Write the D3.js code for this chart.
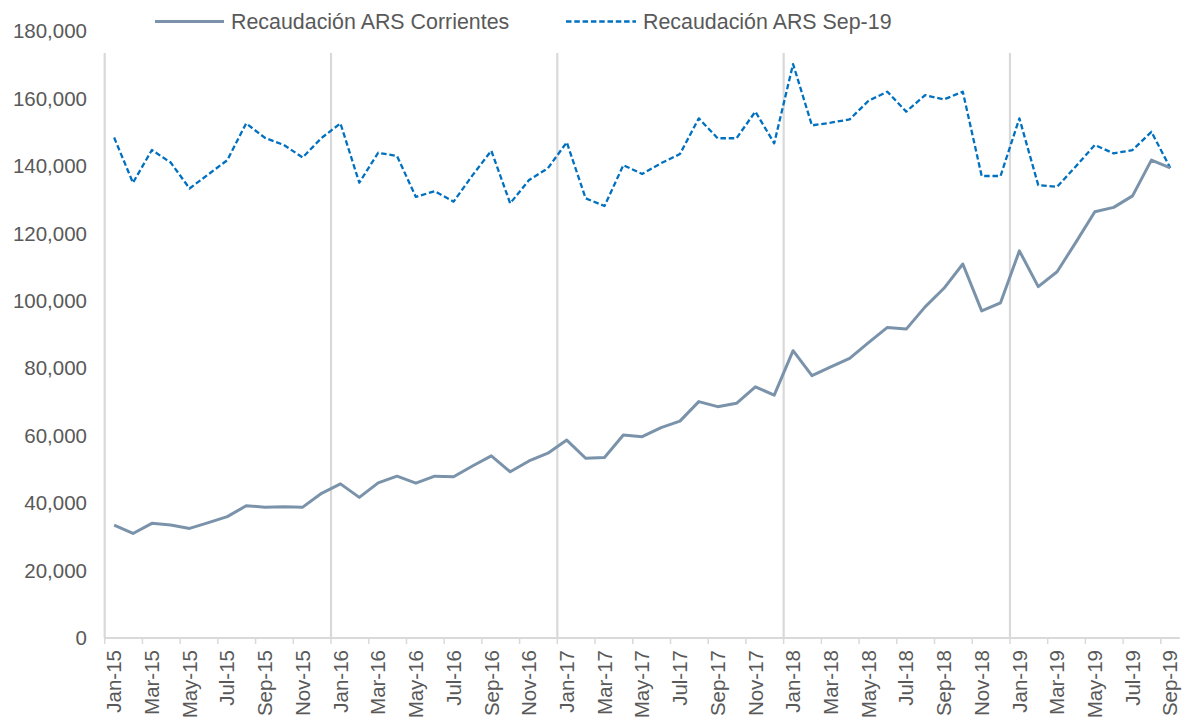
<!DOCTYPE html>
<html>
<head>
<meta charset="utf-8">
<script src="https://cdn.jsdelivr.net/npm/d3@7"></script>
<style>
  html, body { margin: 0; padding: 0; background: #fff; }
  svg { display: block; font-family: "Liberation Sans", Arial, sans-serif; }
</style>
</head>
<body>
<svg id="chart" width="1182" height="722"></svg>
<script>
const months = [
  "Jan-15","Feb-15","Mar-15","Apr-15","May-15","Jun-15","Jul-15","Aug-15","Sep-15","Oct-15","Nov-15","Dec-15",
  "Jan-16","Feb-16","Mar-16","Apr-16","May-16","Jun-16","Jul-16","Aug-16","Sep-16","Oct-16","Nov-16","Dec-16",
  "Jan-17","Feb-17","Mar-17","Apr-17","May-17","Jun-17","Jul-17","Aug-17","Sep-17","Oct-17","Nov-17","Dec-17",
  "Jan-18","Feb-18","Mar-18","Apr-18","May-18","Jun-18","Jul-18","Aug-18","Sep-18","Oct-18","Nov-18","Dec-18",
  "Jan-19","Feb-19","Mar-19","Apr-19","May-19","Jun-19","Jul-19","Aug-19","Sep-19"
];

const corrientes = [
  33500, 31000, 34000, 33500, 32500, 34200, 36000, 39200, 38800, 38900, 38800, 42900,
  45700, 41700, 46000, 48000, 45900, 48000, 47800, 51000, 54000, 49300, 52500, 54800,
  58700, 53300, 53500, 60200, 59700, 62400, 64300, 70100, 68600, 69600, 74500, 72000,
  85200, 77800, 80400, 82900, 87600, 92100, 91600, 98200, 103700, 110900, 97000, 99400,
  114800, 104200, 108600, 117400, 126400, 127700, 131100, 141700, 139400
];

const sep19 = [
  148400, 135000, 144700, 141000, 133300, 137500, 141700, 152600, 148300, 146200, 142500, 148300,
  152600, 135000, 143900, 142900, 130800, 132500, 129400, 137200, 144500, 128900, 135800, 139300,
  147000, 130400, 128100, 140200, 137600, 140800, 143500, 154100, 148200, 148200, 156100, 146700,
  170200, 152000, 152800, 153800, 159300, 162000, 156100, 161000, 159700, 162000, 137000, 137000,
  154100, 134300, 133800, 139900, 146200, 143700, 144700, 150100, 139400
];

const yTicks = [0, 20000, 40000, 60000, 80000, 100000, 120000, 140000, 160000, 180000];
const yearStarts = ["Jan-16", "Jan-17", "Jan-18", "Jan-19"];
const seriesNames = ["Recaudación ARS Corrientes", "Recaudación ARS Sep-19"];

const svg = d3.select("#chart");
const plotLeft = 104.7, plotRight = 1179.7, plotTop = 31, plotBottom = 638, lineTop = 53;
const textColor = "#595959";
const gridColor = "#d9d9d9";
const fontSize = "20.5px";
const legendFontSize = "21.4px";

const x = d3.scaleBand().domain(months).range([plotLeft, plotRight]).paddingInner(0).paddingOuter(0);
const y = d3.scaleLinear().domain([0, 180000]).range([plotBottom, plotTop]);
const cx = m => x(m) + x.bandwidth() / 2;

// Y labels
svg.append("g").selectAll("text").data(yTicks).join("text")
  .attr("x", 87).attr("y", d => y(d)).attr("dy", "0.35em")
  .attr("text-anchor", "end").attr("fill", textColor).style("font-size", fontSize)
  .text(d => d3.format(",")(d));

// Vertical separators (left axis + year starts)
svg.append("g").selectAll("line").data([months[0]].concat(yearStarts)).join("line")
  .attr("x1", d => x(d)).attr("x2", d => x(d))
  .attr("y1", lineTop).attr("y2", plotBottom)
  .attr("stroke", gridColor).attr("stroke-width", 2.2);

// X axis line
svg.append("line").attr("x1", plotLeft).attr("x2", plotRight).attr("y1", plotBottom).attr("y2", plotBottom)
  .attr("stroke", gridColor).attr("stroke-width", 2);

// X ticks & labels every 2 months
const labeled = months.filter((m, i) => i % 2 === 0);
svg.append("g").selectAll("line").data(labeled).join("line")
  .attr("x1", d => x(d)).attr("x2", d => x(d))
  .attr("y1", plotBottom).attr("y2", plotBottom + 6)
  .attr("stroke", gridColor).attr("stroke-width", 1.5);
svg.append("g").selectAll("text").data(labeled).join("text")
  .attr("transform", d => `translate(${cx(d)},${plotBottom + 12}) rotate(-90)`)
  .attr("text-anchor", "end").attr("dy", "0.35em")
  .attr("fill", textColor).style("font-size", fontSize)
  .text(d => d);

// Lines
const lineGen = vals => d3.line().x((d, i) => cx(months[i])).y(d => y(d))(vals);

svg.append("path").attr("d", lineGen(sep19))
  .attr("fill", "none").attr("stroke", "#0070c0").attr("stroke-width", 2.3)
  .attr("stroke-dasharray", "5.5,2.8").attr("stroke-linejoin", "round");

svg.append("path").attr("d", lineGen(corrientes))
  .attr("fill", "none").attr("stroke", "#7a93aa").attr("stroke-width", 3)
  .attr("stroke-linejoin", "round");

// Legend
const legend = svg.append("g");
const legendItems = [
  { name: seriesNames[0], x1: 155, x2: 224, tx: 231, color: "#7a93aa", w: 3, dash: null },
  { name: seriesNames[1], x1: 566, x2: 636, tx: 643, color: "#0070c0", w: 2.3, dash: "5.5,2.8" }
];
legendItems.forEach(it => {
  legend.append("line").attr("x1", it.x1).attr("x2", it.x2).attr("y1", 21.5).attr("y2", 21.5)
    .attr("stroke", it.color).attr("stroke-width", it.w)
    .attr("stroke-dasharray", it.dash);
  legend.append("text").attr("x", it.tx).attr("y", 21.5).attr("dy", "0.35em")
    .attr("fill", textColor).style("font-size", legendFontSize).text(it.name);
});
</script>
</body>
</html>
